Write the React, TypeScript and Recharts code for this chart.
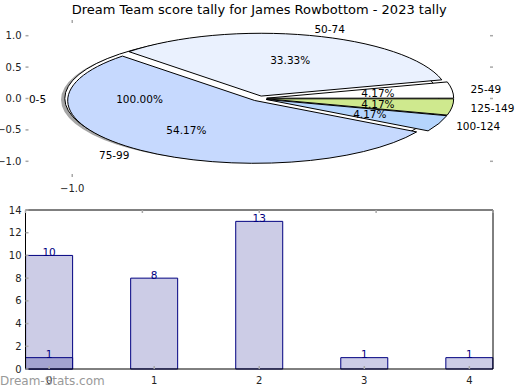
import { PieChart, Pie, Cell, ComposedChart, Bar, XAxis, YAxis, LabelList } from 'recharts';

const TITLE = 'Dream Team score tally for James Rowbottom - 2023 tally';
const WATERMARK = 'Dream-Stats.com';

// pie: background "0-5" pie plus the score bands
const BASE_NAMES = ['0-5'];
const BASE_VALUES = [1];
const SLICE_NAMES = ['25-49', '50-74', '75-99', '100-124', '125-149'];
const SLICE_VALUES = [1, 8, 13, 1, 1];
const SLICE_COLORS = ['#ffffff', '#eaf1fe', '#c6d9fe', '#b5d5fd', '#cfe98e'];
const PIE_Y_TICKS = [-1, -0.5, 0, 0.5, 1];
const PIE_X_TICKS = [-1];

// bars
const BAR_X = [0, 1, 2, 3, 4];
const BAR_VALUES = [10, 8, 13, 1, 1];
const BAR_HIGHLIGHT = [1, null, null, null, null];
const BAR_Y_TICKS = [0, 2, 4, 6, 8, 10, 12, 14];

const FONT = 'DejaVu Sans, sans-serif';
const TICK_GREY = '#a8a8a8';
const RX = 187;
const RY = 62.8;
const EXPLODE = 0.04;
const RAD = Math.PI / 180;

const baseData = BASE_NAMES.map((name, i) => ({ name, value: BASE_VALUES[i] }));
const sliceData = SLICE_NAMES.map((name, i) => ({ name, value: SLICE_VALUES[i] }));
const barData = BAR_X.map((x, i) => ({ x, v: BAR_VALUES[i], h: BAR_HIGHLIGHT[i] }));
// the pie's frame runs -1.25..1.25 on both axes
const pieFrame = PIE_Y_TICKS.map((t) => ({ px: t, py: t }));

const fmtAxis = (v: number) => v.toFixed(1).replace('-', '\u2212');

function sectorPath(cx: number, cy: number, a0: number, a1: number, dx = 0, dy = 0) {
  const start = Math.min(a0, a1);
  const end = Math.max(a0, a1);
  const mid = ((start + end) / 2) * RAD;
  const ox = cx + EXPLODE * RX * Math.cos(mid) + dx;
  const oy = cy - EXPLODE * RY * Math.sin(mid) + dy;
  if (end - start >= 359.99) {
    return `M ${ox + RX} ${oy} A ${RX} ${RY} 0 1 0 ${ox - RX} ${oy} A ${RX} ${RY} 0 1 0 ${ox + RX} ${oy} Z`;
  }
  const x1 = ox + RX * Math.cos(start * RAD);
  const y1 = oy - RY * Math.sin(start * RAD);
  const x2 = ox + RX * Math.cos(end * RAD);
  const y2 = oy - RY * Math.sin(end * RAD);
  const large = end - start > 180 ? 1 : 0;
  return `M ${ox} ${oy} L ${x1} ${y1} A ${RX} ${RY} 0 ${large} 0 ${x2} ${y2} Z`;
}

const EllipseSector = (p: any) => (
  <path d={sectorPath(p.cx, p.cy, p.startAngle, p.endAngle)} fill={p.fill} stroke="#000" strokeWidth={1} />
);

const ShadowSector = (p: any) => (
  <g>
    <path d={sectorPath(p.cx, p.cy, p.startAngle, p.endAngle, -0.02 * RX, 0.02 * RY)} fill="#4d4d4d" fillOpacity={0.5} />
    <path d={sectorPath(p.cx, p.cy, p.startAngle, p.endAngle)} fill={p.fill} stroke="#000" strokeWidth={1} />
  </g>
);

const renderPieText = (p: any) => {
  const c = Math.cos(p.midAngle * RAD);
  const s = Math.sin(p.midAngle * RAD);
  const lf = EXPLODE + 1.1;
  const pf = EXPLODE + 0.6;
  return (
    <g fontFamily={FONT} fontSize={10.5} fill="#000">
      <text x={p.cx + lf * RX * c} y={p.cy - lf * RY * s} textAnchor={c > 0 ? 'start' : 'end'} dominantBaseline="central">
        {p.name}
      </text>
      <text x={p.cx + pf * RX * c} y={p.cy - pf * RY * s} textAnchor="middle" dominantBaseline="central">
        {(p.percent * 100).toFixed(2)}%
      </text>
    </g>
  );
};

const LeftTick = (withText: boolean, fmt: (v: number) => string) => (p: any) => (
  <g>
    <line x1={p.x} x2={p.x + 3} y1={p.y} y2={p.y} stroke={TICK_GREY} strokeWidth={1.5} />
    {withText && (
      <text x={p.x - 4} y={p.y} textAnchor="end" dominantBaseline="central" fontFamily={FONT} fontSize={10} fill="#222">
        {fmt(p.payload.value)}
      </text>
    )}
  </g>
);

const RightTick = (p: any) => (
  <line x1={p.x - 3} x2={p.x} y1={p.y} y2={p.y} stroke={TICK_GREY} strokeWidth={1.5} />
);

const TopTick = (p: any) => (
  <line x1={p.x} x2={p.x} y1={p.y} y2={p.y + 3} stroke={TICK_GREY} strokeWidth={1.5} />
);

const BottomTick = (fmt: (v: number) => string) => (p: any) => (
  <g>
    <line x1={p.x} x2={p.x} y1={p.y - 3} y2={p.y} stroke={TICK_GREY} strokeWidth={1.5} />
    <text x={p.x} y={p.y + 11} textAnchor="middle" dominantBaseline="central" fontFamily={FONT} fontSize={10} fill="#222">
      {fmt(p.payload.value)}
    </text>
  </g>
);

const ValueLabel = (p: any) => {
  if (p.value == null) return null;
  return (
    <text x={p.x + p.width / 2} y={p.y + 0.5} textAnchor="middle" fontFamily={FONT} fontSize={10.5} fill="#000080">
      {p.value}
    </text>
  );
};

const abs = (top: number): React.CSSProperties => ({ position: 'absolute', left: 0, top });

export default function App() {
  return (
    <div style={{ position: 'absolute', left: 0, top: 0, width: 520, height: 390, background: '#fff', fontFamily: FONT }}>
      {/* pie axes: ticks only, no frame */}
      <div style={abs(0)}>
        <ComposedChart width={520} height={200} data={pieFrame} margin={{ top: 0, right: 0, bottom: 0, left: 0 }}>
          <XAxis dataKey="px" type="number" domain={[-1.25, 1.25]} ticks={PIE_X_TICKS} height={23} allowDataOverflow
            axisLine={false} tickLine={false} tickSize={0} tickMargin={0} interval={0} tick={BottomTick(fmtAxis)} />
          <XAxis xAxisId="t" dataKey="px" orientation="top" type="number" domain={[-1.25, 1.25]} ticks={PIE_X_TICKS} height={20} allowDataOverflow
            axisLine={false} tickLine={false} tickSize={0} tickMargin={0} interval={0} tick={TopTick} />
          <YAxis dataKey="py" type="number" domain={[-1.25, 1.25]} ticks={PIE_Y_TICKS} width={25.5} allowDataOverflow
            axisLine={false} tickLine={false} tickSize={0} tickMargin={0} interval={0} tick={LeftTick(true, fmtAxis)} />
          <YAxis yAxisId="r" dataKey="py" orientation="right" type="number" domain={[-1.25, 1.25]} ticks={PIE_Y_TICKS} width={27} allowDataOverflow
            axisLine={false} tickLine={false} tickSize={0} tickMargin={0} interval={0} tick={RightTick} />
        </ComposedChart>
      </div>

      <div style={abs(0)}>
        <PieChart width={520} height={200} margin={{ top: 0, right: 0, bottom: 0, left: 0 }}>
          <Pie data={baseData} dataKey="value" nameKey="name" cx={259.25} cy={98.5} outerRadius={RY}
            startAngle={0} endAngle={360} shape={ShadowSector} isAnimationActive={false} labelLine={false}>
            {baseData.map((d) => <Cell key={d.name} fill="#ffffff" />)}
          </Pie>
          <Pie data={sliceData} dataKey="value" nameKey="name" cx={259.25} cy={98.5} outerRadius={RY}
            startAngle={0} endAngle={360} shape={EllipseSector} isAnimationActive={false} labelLine={false}>
            {sliceData.map((d, i) => <Cell key={d.name} fill={SLICE_COLORS[i]} />)}
          </Pie>
          {/* texts sit above every wedge */}
          <Pie data={baseData} dataKey="value" nameKey="name" cx={259.25} cy={98.5} outerRadius={RY}
            startAngle={0} endAngle={360} fill="none" stroke="none" shape={() => <g />}
            isAnimationActive={false} label={renderPieText} labelLine={false} />
          <Pie data={sliceData} dataKey="value" nameKey="name" cx={259.25} cy={98.5} outerRadius={RY}
            startAngle={0} endAngle={360} fill="none" stroke="none" shape={() => <g />}
            isAnimationActive={false} label={renderPieText} labelLine={false} />
        </PieChart>
      </div>

      <div style={abs(200)}>
        <ComposedChart width={520} height={190} data={barData} margin={{ top: 0, right: 0, bottom: 0, left: 0 }}
          barGap={-47} barSize={47}>
          <XAxis dataKey="x" type="number" domain={[-0.225, 4.225]} ticks={BAR_X} height={21}
            axisLine={{ stroke: '#000' }} tickLine={false} tickSize={0} tickMargin={0} interval={0}
            tick={BottomTick((v) => String(v))} />
          <XAxis xAxisId="top" orientation="top" type="number" domain={[-0.225, 4.225]} ticks={BAR_X} height={10}
            axisLine={{ stroke: '#000' }} tickLine={false} tickSize={0} tickMargin={0} interval={0} tick={TopTick} />
          <YAxis type="number" domain={[0, 14]} ticks={BAR_Y_TICKS} width={25.5}
            axisLine={{ stroke: '#000' }} tickLine={false} tickSize={0} tickMargin={0} interval={0}
            tick={LeftTick(true, (v) => String(v))} />
          <YAxis yAxisId="right" orientation="right" type="number" domain={[0, 14]} ticks={BAR_Y_TICKS} width={27}
            axisLine={{ stroke: '#000' }} tickLine={false} tickSize={0} tickMargin={0} interval={0} tick={RightTick} />
          <Bar dataKey="v" fill="#cccce6" stroke="#000080" strokeWidth={1} isAnimationActive={false}>
            <LabelList dataKey="v" content={ValueLabel} />
          </Bar>
          <Bar dataKey="h" fill="#a3a3d0" stroke="#000080" strokeWidth={1} isAnimationActive={false}>
            <LabelList dataKey="h" content={ValueLabel} />
          </Bar>
        </ComposedChart>
      </div>

      <svg width={520} height={390} style={{ position: 'absolute', left: 0, top: 0, pointerEvents: 'none' }}>
        <text x={259.25} y={14} textAnchor="middle" fontFamily={FONT} fontSize={13} fill="#000">{TITLE}</text>
        <text x={0} y={385} fontFamily={FONT} fontSize={12} fill="#999">{WATERMARK}</text>
      </svg>
    </div>
  );
}
